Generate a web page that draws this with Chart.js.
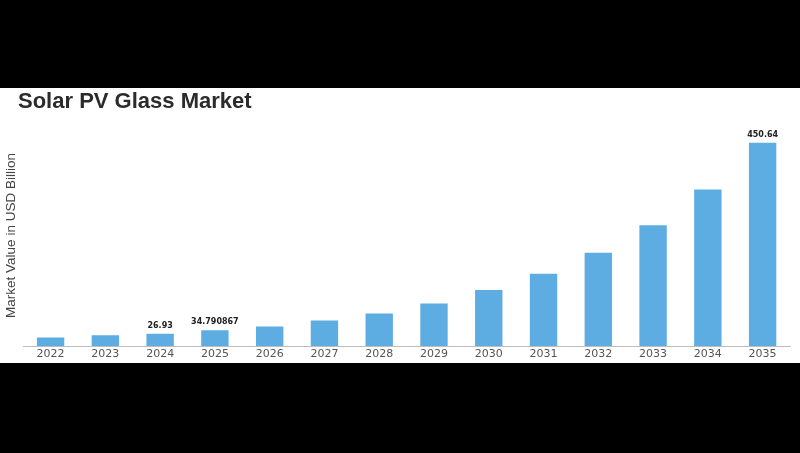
<!DOCTYPE html>
<html>
<head>
<meta charset="utf-8">
<script src="https://cdn.jsdelivr.net/npm/chart.js@4/dist/chart.umd.min.js"></script>
<style>
  html, body { margin: 0; padding: 0; background: #000; width: 800px; height: 453px; overflow: hidden; }
  #panel { position: absolute; left: 0; top: 88px; width: 800px; height: 275px; background: #fff; }
  #title { position: absolute; left: 18px; top: 90px; font: bold 22px "Liberation Sans", Arial, sans-serif; line-height: 1; color: #2b2b2b; white-space: nowrap; }
  #c { position: absolute; left: 0; top: 0; }
</style>
</head>
<body>
<div id="panel"><canvas id="c" width="800" height="275"></canvas></div>
<div id="title">Solar PV Glass Market</div>
<script>
const years = ['2022','2023','2024','2025','2026','2027','2028','2029','2030','2031','2032','2033','2034','2035'];
const marketValues = [18.7, 23.8, 26.93, 34.790867, 43.2, 56.6, 72.2, 94.5, 124, 160, 207, 268, 347, 450.64];
const valueLabels = ['', '', '26.93', '34.790867', '', '', '', '', '', '', '', '', '', '450.64'];
const yAxisTitle = 'Market Value in USD Billion';

const barLabelPlugin = {
  id: 'barLabels',
  afterDatasetsDraw(chart) {
    const ctx = chart.ctx;
    const meta = chart.getDatasetMeta(0);
    ctx.save();
    ctx.font = 'bold 8px "DejaVu Sans", sans-serif';
    ctx.fillStyle = '#222';
    ctx.textAlign = 'center';
    ctx.textBaseline = 'bottom';
    meta.data.forEach((bar, i) => {
      const t = valueLabels[i];
      if (t) ctx.fillText(t, bar.x, bar.y - 4);
    });
    ctx.restore();
  }
};

new Chart(document.getElementById('c'), {
  type: 'bar',
  data: {
    labels: years,
    datasets: [{
      data: marketValues,
      backgroundColor: '#5DADE2',
      borderWidth: 0,
      barPercentage: 0.5,
      categoryPercentage: 1.0
    }]
  },
  options: {
    responsive: false,
    animation: false,
    layout: { padding: { top: 37, right: 10, bottom: 0, left: 0 } },
    plugins: {
      legend: { display: false },
      tooltip: { enabled: false },
      title: { display: false }
    },
    scales: {
      x: {
        offset: true,
        grid: { display: false, drawTicks: false },
        border: { display: true, color: '#bdbdbd', width: 1 },
        ticks: { color: '#555', font: { family: '"DejaVu Sans", sans-serif', size: 11, lineHeight: 1.0 }, padding: 3, maxRotation: 0 }
      },
      y: {
        min: 0,
        max: 490,
        grid: { display: false, drawTicks: false },
        border: { display: false },
        ticks: { display: false },
        title: {
          display: true,
          text: yAxisTitle,
          color: '#444',
          font: { family: '"Liberation Sans", Arial, sans-serif', size: 13.5 },
          padding: { top: 3, bottom: 4 }
        }
      }
    }
  },
  plugins: [barLabelPlugin]
});
</script>
</body>
</html>
